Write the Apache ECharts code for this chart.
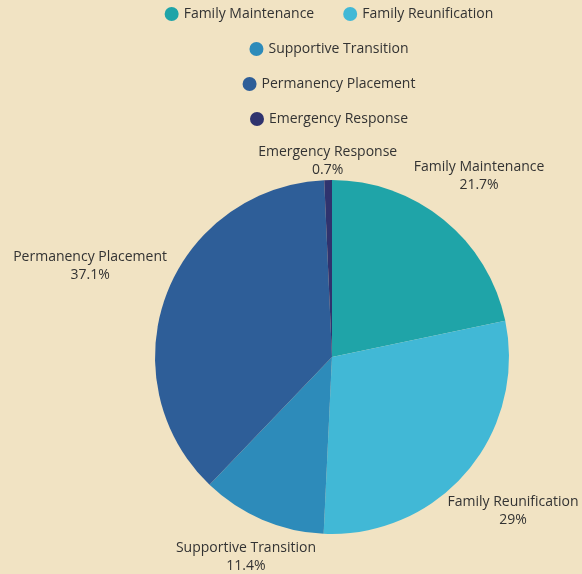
<!DOCTYPE html>
<html>
<head>
<meta charset="utf-8">
<script src="https://cdn.jsdelivr.net/npm/echarts@6/dist/echarts.min.js"></script>
<style>
  html, body { margin: 0; padding: 0; background: #f1e3c3; }
  #main { width: 582px; height: 574px; }
</style>
</head>
<body>
<div id="main"></div>
<script>
var categories = ['Family Maintenance', 'Family Reunification', 'Supportive Transition', 'Permanency Placement', 'Emergency Response'];
var values = [21.7, 29, 11.4, 37.1, 0.7];
var colors = ['#1fa4a8', '#41b8d6', '#2d8bba', '#2e5e98', '#2f336e'];

var cx = 332, cy = 357, radius = 177;
var legendCenter = 329;
var font = 'Open Sans';
var total = values.reduce(function (a, b) { return a + b; }, 0);

// 每个扇区中线的角度（从12点顺时针）
function midAngle(idx) {
    var cum = 0;
    for (var i = 0; i < idx; i++) cum += values[i];
    return (cum + values[idx] / 2) / total * Math.PI * 2;
}

// 量一下图例文字宽度，好让每行图例以 legendCenter 居中
var ctx = document.createElement('canvas').getContext('2d');
ctx.font = '14px "' + font + '"';
function textW(t) { return ctx.measureText(t).width; }

var myChart = echarts.init(document.getElementById('main'));

var itemW = 14, itemGap = 29;
var legendRows = [[0, 1], [2], [3], [4]];
var legends = legendRows.map(function (row, i) {
    var w = 0;
    row.forEach(function (k, j) {
        w += itemW + 5 + textW(categories[k]) + (j > 0 ? itemGap : 0);
    });
    return {
        data: row.map(function (k) { return categories[k]; }),
        left: legendCenter - w / 2,
        top: 7 + i * 35,
        padding: 0,
        icon: 'circle',
        itemWidth: itemW,
        itemHeight: 14,
        itemGap: itemGap,
        selectedMode: false,
        textStyle: { fontFamily: font, fontSize: 14, color: '#333' }
    };
});

var option = {
    backgroundColor: '#f1e3c3',
    color: colors,
    legend: legends,
    series: [{
        type: 'pie',
        center: [cx, cy],
        radius: radius,
        startAngle: 90,
        clockwise: true,
        avoidLabelOverlap: false,
        label: {
            show: true,
            position: 'outside',
            formatter: function (p) {
                return p.name + '\n' + (Math.round(p.percent * 10) / 10) + '%';
            },
            fontFamily: font,
            fontSize: 14,
            lineHeight: 18,
            color: '#333',
            align: 'center'
        },
        labelLine: { show: false, length: 1, length2: 0 },
        labelLayout: function (params) {
            var a = midAngle(params.dataIndex);
            var s = Math.sin(a), c = Math.cos(a);
            var hw = params.labelRect.width / 2, hh = params.labelRect.height / 2;
            var d = radius + hw * Math.abs(s) * 1.02 + hh * Math.abs(c) * (c > 0 ? 0.8 : 0.6) + 3;
            return {
                x: cx + d * s,
                y: cy - d * c,
                align: 'center',
                verticalAlign: 'middle'
            };
        },
        emphasis: { scale: false },
        data: categories.map(function (name, i) {
            return { name: name, value: values[i] };
        })
    }]
};

myChart.setOption(option);
window.addEventListener('resize', function () {
    myChart.resize();
});
</script>
</body>
</html>
